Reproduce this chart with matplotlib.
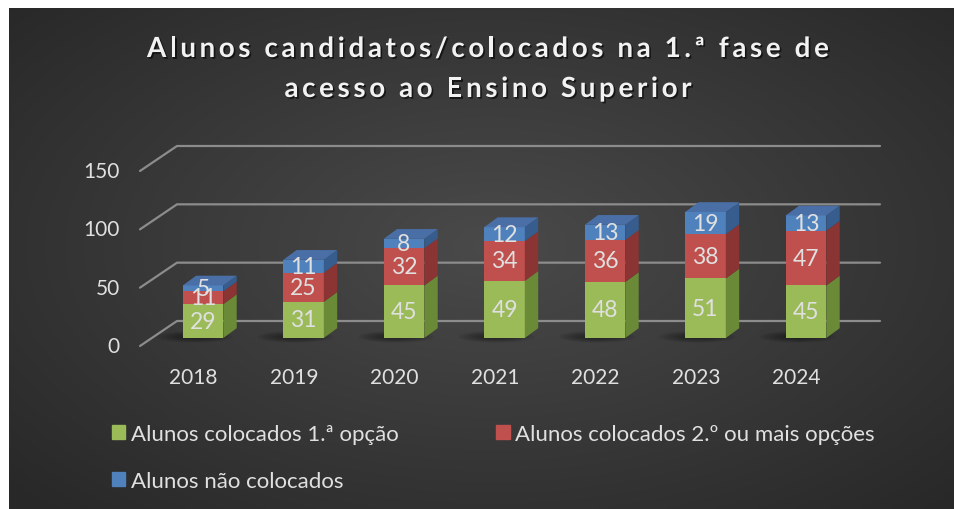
import numpy as np
import matplotlib
matplotlib.use('Agg')
import matplotlib.pyplot as plt
import matplotlib.patheffects as pe
from matplotlib.patches import Polygon, Ellipse, Rectangle
from matplotlib.font_manager import FontProperties

plt.rcParams['font.family'] = ['Lato', 'DejaVu Sans']

# data -----------------------------------------------------------------------
years = ['2018', '2019', '2020', '2021', '2022', '2023', '2024']
first_option = [29, 31, 45, 49, 48, 51, 45]
other_options = [11, 25, 32, 34, 36, 38, 47]
not_placed = [5, 11, 8, 12, 13, 19, 13]
series_names = ['Alunos colocados 1.ª opção',
                'Alunos colocados 2.º ou mais opções',
                'Alunos não colocados']
y_ticks = [0, 50, 100, 150]
title_lines = ['Alunos candidatos/colocados na 1.ª fase de',
               'acesso ao Ensino Superior']

# style ----------------------------------------------------------------------
front_colors = ['#9bbb59', '#c0504d', '#4f81bd']
side_colors = ['#6b8a38', '#8a3533', '#365d8d']
top_color = '#4a6fa6'
text_color = '#e0e0e0'
grid_color = '#8c8c8c'

W, H = 955, 510
fig = plt.figure(figsize=(W / 100, H / 100), dpi=100, facecolor='white')
renderer = fig.canvas.get_renderer()

# background: dark radial gradient ------------------------------------------
bg = fig.add_axes([9 / W, 0, 944 / W, 501 / H])
gx, gy = np.meshgrid(np.linspace(-1, 1, 400), np.linspace(-1, 1, 220))
r = np.sqrt(((gx - 0.02) / 1.05) ** 2 + ((gy + 0.05) / 1.1) ** 2)
shade = 0.29 - 0.13 * np.clip(r, 0, 1.3) / 1.3
bg.imshow(np.dstack([shade] * 3), aspect='auto', extent=[0, 1, 0, 1])
bg.axis('off')

# plot area (data units: category index / value) ----------------------------
ax = fig.add_axes([100 / W, 1 - 400 / H, 800 / W, 280 / H])
ax.patch.set_alpha(0)
ax.axis('off')
px_x = 100.5          # pixels per category
px_y = 1.1667         # pixels per value unit
x_min = -(203 - 100) / px_x
ax.set_xlim(x_min, x_min + 800 / px_x)
y_min = -(400 - 347) / px_y
ax.set_ylim(y_min, y_min + 280 / px_y)

floor_dx = 37 / px_x
floor_dy = 25 / px_y
grid_left = x_min + 40 / px_x
grid_right = x_min + 780 / px_x
for v in y_ticks:
    ax.plot([grid_left, grid_left + floor_dx, grid_right],
            [v, v + floor_dy, v + floor_dy],
            color=grid_color, lw=1.6, zorder=1, solid_capstyle='round')
    ax.text(x_min + 20 / px_x, v, str(v), ha='right', va='center',
            fontsize=15, color=text_color)

x = np.arange(len(years))
bar_w = 40.6 / px_x
base = 8 / px_y
dx = 13.4 / px_x
dy = 9.8 / px_y

# soft shadows on the floor
for i in x:
    for k in range(6):
        ax.add_patch(Ellipse((i - 0.08, base + 1), 0.75 - 0.09 * k,
                             10 - 1.3 * k, color='black', alpha=0.07,
                             lw=0, zorder=2))

series = [first_option, other_options, not_placed]
bottoms = np.full(len(years), base, dtype=float)
for s, vals in enumerate(series):
    vals = np.array(vals, dtype=float)
    ax.bar(x, vals, bottom=bottoms, width=bar_w, color=front_colors[s],
           lw=0, zorder=3)
    for i in x:
        xr = i + bar_w / 2
        b, t = bottoms[i], bottoms[i] + vals[i]
        ax.add_patch(Polygon([(xr, b), (xr + dx, b + dy), (xr + dx, t + dy),
                              (xr, t)], closed=True, color=side_colors[s],
                             lw=0, zorder=3))
        ax.text(i, (b + t) / 2, f'{vals[i]:.0f}', ha='center', va='center',
                fontsize=16.5, color=text_color, zorder=5)
    bottoms = bottoms + vals

for i in x:
    t = bottoms[i]
    xl, xr = i - bar_w / 2, i + bar_w / 2
    ax.add_patch(Polygon([(xl, t), (xr, t), (xr + dx, t + dy), (xl + dx, t + dy)],
                         closed=True, color=top_color, lw=0, zorder=3))
    ax.text(i - 0.097, -26.6, years[i], ha='center', va='center',
            fontsize=15, color=text_color)

# title, letter-spaced -----------------------------------------------------------
title_prop = FontProperties(family=['Lato', 'DejaVu Sans'], weight='bold', size=20)
tracking = 3.6   # extra pixels between letters
bar_w_ref = renderer.get_text_width_height_descent('||', title_prop, ismath=False)[0]


def char_width(c):
    w = renderer.get_text_width_height_descent('|' + c + '|', title_prop,
                                               ismath=False)[0]
    return w - bar_w_ref


shadow = [pe.withSimplePatchShadow(offset=(1.2, -1.2), shadow_rgbFace='black',
                                   alpha=0.6)]
for line, yc in zip(title_lines, [50, 90]):
    widths = [char_width(c) for c in line]
    total = sum(widths) + tracking * (len(line) - 1)
    xpos = 488 - total / 2
    for c, w in zip(line, widths):
        if c != ' ':
            fig.text(xpos / W, 1 - yc / H, c, ha='left', va='center',
                     fontproperties=title_prop, color='#f2f2f2',
                     path_effects=shadow)
        xpos += w + tracking

# legend -------------------------------------------------------------------------
handles = [Rectangle((0, 0), 1, 1, color=c) for c in front_colors]
order = [0, 2, 1]
fig.legend([handles[k] for k in order], [series_names[k] for k in order],
           ncol=2, loc='upper left', bbox_to_anchor=(112 / W, 1 - 425 / H),
           frameon=False, fontsize=16, labelcolor=text_color,
           borderpad=0, borderaxespad=0,
           handlelength=0.6, handleheight=0.6, handletextpad=0.25,
           columnspacing=4.4, labelspacing=1.2)

fig.savefig('out.png', dpi=100, facecolor='white')
